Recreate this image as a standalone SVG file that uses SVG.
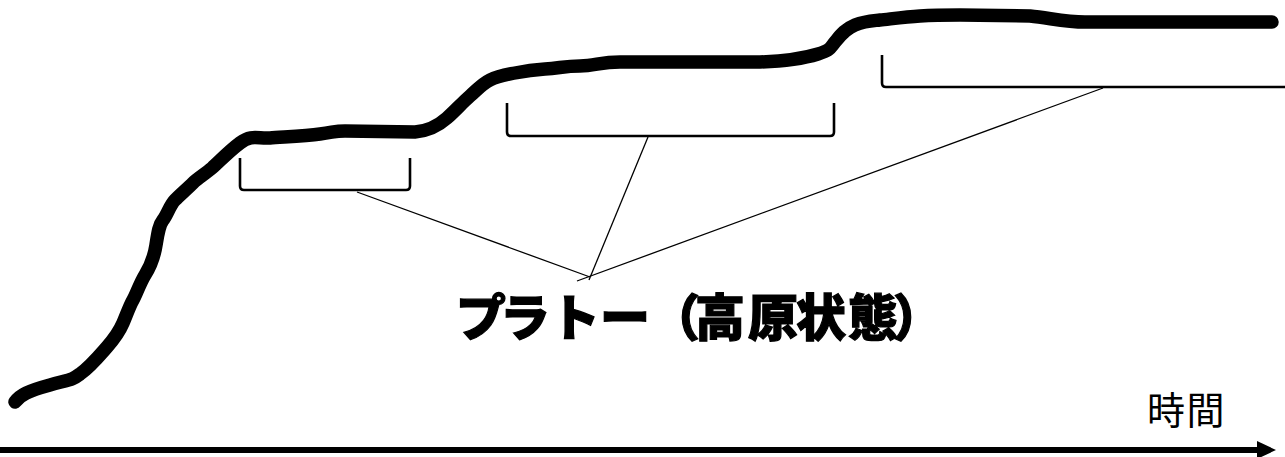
<svg xmlns="http://www.w3.org/2000/svg" width="1285" height="457" viewBox="0 0 1285 457">
<style>
.curve{fill:none;stroke:#000;stroke-width:13.5;stroke-linecap:round;stroke-linejoin:round}
.br{fill:none;stroke:#000;stroke-width:2.6;stroke-linejoin:round}
.ln{fill:none;stroke:#000;stroke-width:1.3}
.lbl{font-family:"Noto Sans CJK JP",sans-serif;font-weight:900;font-size:50px;fill:#000;stroke:#000;stroke-width:1.2}
.ax{font-family:"Noto Sans CJK JP",sans-serif;font-size:38px;fill:#000;letter-spacing:1.5px}
</style>
<g id="curve">
<path class="curve" d="M15,402 C20,395 28,391 50,385 S72,380 80,374 C90,367 100,355 107,347 S120,330 123,323 S130,305 133,300 S140,283 145,275 S154,258 156,245 S159,225 163,220 S170,205 175,200 S188,188 193,183 S205,174 212,168 S228,152 240,143 S258,139 270,138 S305,136 320,134 S335,131 345,131 L415,132 C428,131 438,126 447,118 S462,103 470,96 S482,84 490,80 S505,75 515,73 S530,70 545,69 S565,66 580,66 S600,62 620,62 L760,62 C790,61 805,58 818,54 S830,48 835,42 S845,29 855,25 S870,21 880,20 S905,17 920,16 S945,15 960,15 L1030,16 C1050,18 1065,22 1085,22 L1272,22"/>
</g>
<g id="brackets">
<path class="br" d="M240,158 L240,186 Q240,190 244,190 L406,190 Q410,190 410,186 L410,158"/>
<path class="br" d="M507,103 L507,132 Q507,136 511,136 L830,136 Q834,136 834,132 L834,103"/>
<path class="br" d="M882,55 L882,83 Q882,87 886,87 L1285,87"/>
</g>
<g id="connectors">
<line class="ln" x1="357" y1="192" x2="590" y2="277"/>
<line class="ln" x1="648" y1="137" x2="589" y2="280"/>
<line class="ln" x1="1103" y1="88" x2="577" y2="281"/>
</g>
<g id="label">
<text class="lbl" x="456 500 550 600 650 695 748 796 848 893" y="336">プラトー（高原状態）</text>
</g>
<g id="axis">
<line x1="0" y1="450" x2="1260" y2="450" stroke="#000" stroke-width="6"/>
<path d="M1257,441 L1276,450 L1257,459 Z" fill="#000"/>
<text class="ax" x="1147" y="424">時間</text>
</g>
</svg>
